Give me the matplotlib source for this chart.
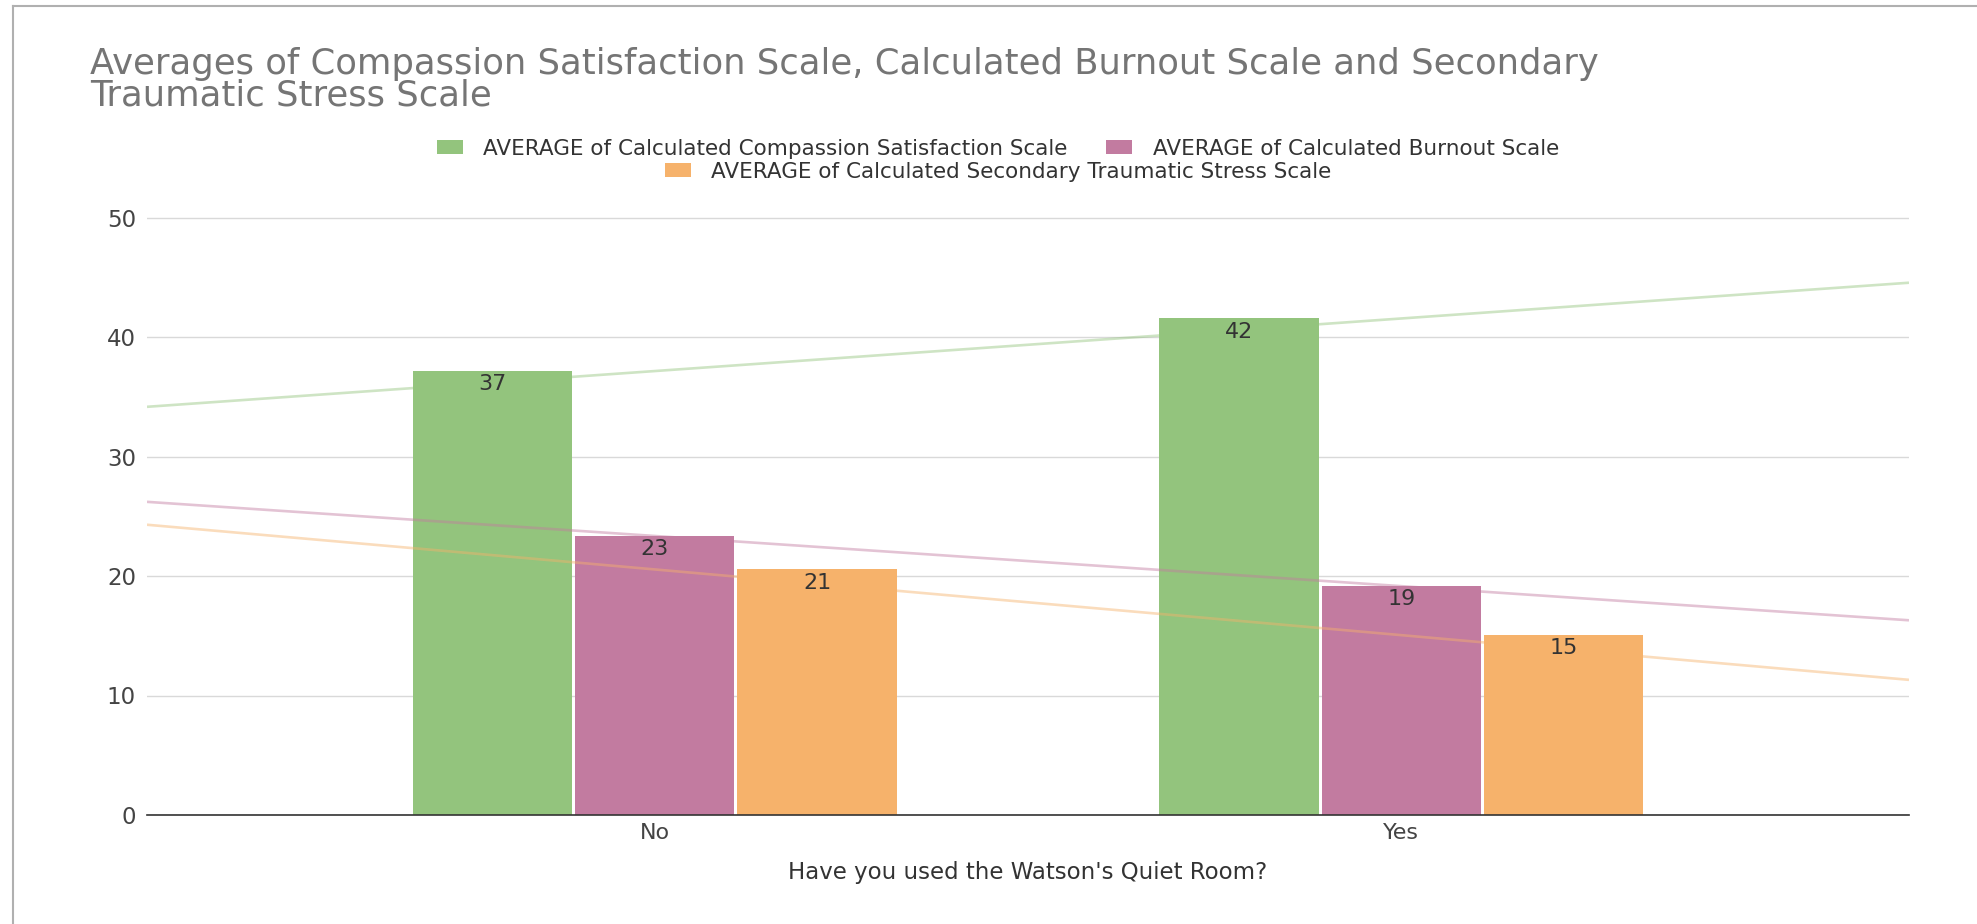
import numpy as np
import matplotlib
matplotlib.use("Agg")
import matplotlib.pyplot as plt
from matplotlib.lines import Line2D
from matplotlib.patches import Patch

# ---- data ----
categories = ["No", "Yes"]
series_names = [
    "AVERAGE of Calculated Compassion Satisfaction Scale",
    "AVERAGE of Calculated Burnout Scale",
    "AVERAGE of Calculated Secondary Traumatic Stress Scale",
]
compassion = [37.15, 41.55]
burnout = [23.35, 19.15]
stress = [20.55, 15.05]
y_ticks = [0, 10, 20, 30, 40, 50]
title = ("Averages of Compassion Satisfaction Scale, Calculated Burnout Scale and Secondary\n"
         "Traumatic Stress Scale")
x_title = "Have you used the Watson's Quiet Room?"

colors = ["#93c47d", "#c27ba0", "#f6b26b"]
series = [compassion, burnout, stress]

plt.rcParams['font.family'] = ['DejaVu Sans']

W, H = 1977, 924
fig = plt.figure(figsize=(W / 100, H / 100), dpi=100)

left_px, right_px = 147, 1909
zero_px, px_per_unit = 815, 11.95
ytop = 50.5
top_px = zero_px - ytop * px_per_unit
ax = fig.add_axes([left_px / W, 1 - zero_px / H, (right_px - left_px) / W, (zero_px - top_px) / H])

x = np.arange(len(categories))
xlim = (-0.68, len(categories) - 1 + 0.68)
step = 0.2175
width = 0.2135
for i, (vals, c, name) in enumerate(zip(series, colors, series_names)):
    pos = x + (i - 1) * step
    bars = ax.bar(pos, vals, width=width, color=c, label=name, zorder=2)
    for b, v in zip(bars, vals):
        ax.annotate(f"{v:.0f}", (b.get_x() + b.get_width() / 2, v), xytext=(0, -9.5),
                    textcoords="offset points", ha="center", va="center",
                    fontsize=16, color="#333333", zorder=5)
    # linear trendline fitted to the series
    k, b0 = np.polyfit(x, vals, 1)
    xs = np.array(xlim)
    ax.plot(xs, k * xs + b0, color=c, alpha=0.45, lw=1.9, zorder=3, solid_capstyle="butt")

ax.set_xlim(*xlim)
ax.set_ylim(0, ytop)
ax.set_yticks(y_ticks)
ax.set_xticks(x)
ax.set_xticklabels(categories)
ax.tick_params(axis="y", length=0, pad=8, labelsize=16.5, labelcolor="#444444")
ax.tick_params(axis="x", length=0, pad=6, labelsize=16, labelcolor="#444444")
ax.grid(axis="y", color="#d9d9d9", lw=1.0, zorder=0)
ax.set_axisbelow(True)
for s in ["top", "right", "left"]:
    ax.spines[s].set_visible(False)
ax.spines["bottom"].set_color("#333333")
ax.spines["bottom"].set_linewidth(1.2)
ax.spines["bottom"].set_zorder(4)

# axis title
fig.text((left_px + right_px) / 2 / W, 1 - 873 / H, x_title, ha="center", va="center",
         fontsize=16.5, color="#333333")

# chart title
fig.text(90 / W, 1 - 47 / H, title, ha="left", va="top", fontsize=25.5, color="#757575",
         linespacing=0.9)

# legend (two rows, centred)
handles = [Patch(facecolor=c, edgecolor="none") for c in colors]
kw = dict(frameon=False, fontsize=15.5, handlelength=1.2, handleheight=0.63,
          handletextpad=0.95, columnspacing=1.8, borderpad=0, borderaxespad=0,
          labelcolor="#333333", loc="center")
leg1 = fig.legend(handles[:2], series_names[:2], ncol=2, bbox_to_anchor=(998 / W, 1 - 149 / H), **kw)
leg2 = fig.legend(handles[2:], series_names[2:], ncol=1, bbox_to_anchor=(998 / W, 1 - 172 / H), **kw)

# frame lines of the screenshot
fig.add_artist(Line2D([13 / W, 1], [1 - 6 / H, 1 - 6 / H], color="#b0b0b0", lw=1.5))
fig.add_artist(Line2D([13 / W, 13 / W], [0, 1 - 6 / H], color="#b0b0b0", lw=1.5))

fig.savefig("out.png", dpi=100)
